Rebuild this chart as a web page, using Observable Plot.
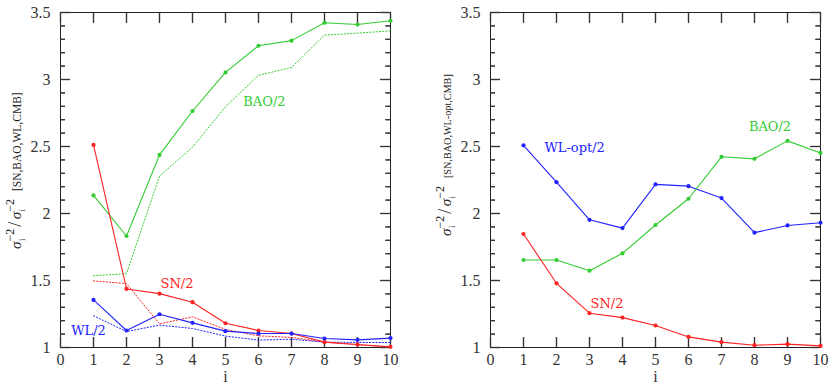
<!DOCTYPE html>
<html><head><meta charset="utf-8">
<script src="https://cdn.jsdelivr.net/npm/d3@7"></script>
<script src="https://cdn.jsdelivr.net/npm/@observablehq/plot@0.6"></script>
<style>
body{margin:0;background:#fff;}
#wrap{display:flex;width:836px;height:390px;overflow:hidden;}
</style></head><body><div id="wrap"></div>
<script>
// ---- data ----
const iVals = [1,2,3,4,5,6,7,8,9,10];
const xTicks = [0,1,2,3,4,5,6,7,8,9,10];
const yTicks = [1,1.5,2,2.5,3,3.5];
const yMinor = [1.1,1.2,1.3,1.4,1.6,1.7,1.8,1.9,2.1,2.2,2.3,2.4,2.6,2.7,2.8,2.9,3.1,3.2,3.3,3.4];

// left panel: solid (with dots) and dotted companions
const leftBAO    = [2.135,1.832,2.437,2.765,3.053,3.252,3.290,3.423,3.410,3.438];
const leftBAOdot = [1.536,1.551,2.279,2.495,2.797,3.031,3.090,3.331,3.346,3.363];
const leftSN     = [2.512,1.437,1.402,1.338,1.181,1.127,1.104,1.040,1.022,1.005];
const leftSNdot  = [1.497,1.477,1.176,1.229,1.135,1.087,1.075,1.040,1.020,1.003];
const leftWL     = [1.355,1.127,1.248,1.184,1.122,1.104,1.104,1.067,1.057,1.070];
const leftWLdot  = [1.237,1.119,1.167,1.142,1.085,1.055,1.062,1.040,1.038,1.037];

// right panel
const rightWLopt = [2.509,2.234,1.953,1.891,2.217,2.204,2.115,1.857,1.911,1.931];
const rightBAO   = [1.653,1.653,1.573,1.703,1.914,2.110,2.423,2.408,2.542,2.452];
const rightSN    = [1.847,1.479,1.256,1.223,1.164,1.079,1.040,1.017,1.025,1.012];

const leftLabels  = [{x:6.18,y:2.833,t:"BAO/2",s:"bao"},{x:3.53,y:1.475,t:"SN/2",s:"sn"},{x:0.85,y:1.125,t:"WL/2",s:"wl"}];
const rightLabels = [{x:2.55,y:2.49,t:"WL-opt/2",s:"wl"},{x:8.47,y:2.647,t:"BAO/2",s:"bao"},{x:3.53,y:1.326,t:"SN/2",s:"sn"}];

const colors = {bao:"#33cc33", sn:"#ff2222", wl:"#2222ff"};

function rows(vals, s){ return iVals.map((i,k)=>({i, v:vals[k], s})); }

const X0 = 0, X1 = 10, Y0 = 1, Y1 = 3.5;
const PW = 330, PH = 335;

function panel({solid, dotted, labels, ml, mr, yl, ylSize, ylx, yly}) {
  const tickFont = "Liberation Serif, serif";
  const major = {stroke:"#333", strokeWidth:1.2};
  const minor = {stroke:"#333", strokeWidth:1.1};
  const blank = () => "";
  const marks = [
    Plot.frame({stroke:"#222", fill:"none"}),
    // inward ticks, all four sides (axis ticks shifted inside the frame)
    Plot.axisY(yTicks, {anchor:"left", tickSize:10, dx:10, tickFormat:blank, label:null, ...major}),
    Plot.axisY(yTicks, {anchor:"right", tickSize:10, dx:-10, tickFormat:blank, label:null, ...major}),
    Plot.axisY(yMinor, {anchor:"left", tickSize:5, dx:5, tickFormat:blank, label:null, ...minor}),
    Plot.axisY(yMinor, {anchor:"right", tickSize:5, dx:-5, tickFormat:blank, label:null, ...minor}),
    Plot.axisX(xTicks, {anchor:"bottom", tickSize:10, dy:-10, tickFormat:blank, label:null, ...major}),
    Plot.axisX(xTicks, {anchor:"top", tickSize:10, dy:10, tickFormat:blank, label:null, ...major}),
    Plot.tickY(yTicks, {y:d=>d, insetRight:PW-10, ...major}),
    Plot.tickY(yTicks, {y:d=>d, insetLeft:PW-10, ...major}),
    Plot.tickY(yMinor, {y:d=>d, insetRight:PW-5, ...minor}),
    Plot.tickY(yMinor, {y:d=>d, insetLeft:PW-5, ...minor}),
    Plot.tickX(xTicks, {x:d=>d, insetTop:PH-10, ...major}),
    Plot.tickX(xTicks, {x:d=>d, insetBottom:PH-10, ...major}),
    // tick labels
    Plot.axisY(yTicks, {anchor:"left", tickSize:0, tickPadding:10, label:null, fontSize:16, fontFamily:tickFont, fill:"#333", tickFormat:d=>String(d)}),
    Plot.axisX(xTicks, {anchor:"bottom", tickSize:0, tickPadding:6, label:null, fontSize:16, fontFamily:tickFont, fill:"#333", tickFormat:d=>String(d)}),
    Plot.text(["i"], {frameAnchor:"bottom", dy:34, fontSize:16, fontFamily:tickFont, fill:"#333"})
  ];
  for (const d of dotted) {
    marks.push(Plot.line(d, {x:"i", y:"v", stroke:colors[d[0].s], strokeWidth:1, strokeDasharray:"1.2,2"}));
  }
  for (const d of solid) {
    marks.push(Plot.line(d, {x:"i", y:"v", stroke:colors[d[0].s], strokeWidth:1.1}));
    marks.push(Plot.dot(d, {x:"i", y:"v", r:2.1, fill:colors[d[0].s], stroke:null}));
  }
  marks.push(Plot.text(labels, {x:"x", y:"y", text:"t", fill:d=>colors[d.s], fontSize:13, fontFamily:"DejaVu Serif, serif"}));

  const p = Plot.plot({
    width:418, height:390, marginLeft:ml, marginRight:mr, marginTop:12, marginBottom:43,
    x:{domain:[X0,X1], axis:null},
    y:{domain:[Y0,Y1], axis:null},
    style:{background:"#fff", overflow:"visible"},
    marks
  });
  const svg = d3.select(p);
  // y-axis label with stacked sub/superscripts
  const t = svg.append("text")
    .attr("transform", `translate(${ylx},${yly}) rotate(-90)`)
    .attr("text-anchor","start")
    .attr("font-family","Liberation Serif, serif")
    .attr("fill","#222");
  const sigma = () => {
    t.append("tspan").attr("font-size",15).attr("font-style","italic").text("σ");
    t.append("tspan").attr("font-size",9).attr("dy",4).attr("dx",0.5).text("i");
    t.append("tspan").attr("font-size",12).attr("dx",-3).attr("dy",-11.5).text("−2");
  };
  sigma();
  t.append("tspan").attr("font-size",18).attr("dy",7.5).attr("dx",2).text("/");
  t.append("tspan").attr("font-size",2).attr("dx",2).text(" ");
  sigma();
  t.append("tspan").attr("font-size",ylSize).attr("dy",7.5).attr("dx",8).text(yl);
  return p;
}

const wrap = document.getElementById("wrap");
wrap.appendChild(panel({
  solid:[rows(leftBAO,"bao"), rows(leftSN,"sn"), rows(leftWL,"wl")],
  dotted:[rows(leftBAOdot,"bao"), rows(leftSNdot,"sn"), rows(leftWLdot,"wl")],
  labels:leftLabels, ml:60, mr:28, yl:"[SN,BAO,WL,CMB]", ylSize:11.5, ylx:21, yly:249
}));
wrap.appendChild(panel({
  solid:[rows(rightWLopt,"wl"), rows(rightBAO,"bao"), rows(rightSN,"sn")],
  dotted:[],
  labels:rightLabels, ml:72, mr:16, yl:"[SN,BAO,WL-opt,CMB]", ylSize:10.2, ylx:33, yly:236
}));
</script>
</body></html>
